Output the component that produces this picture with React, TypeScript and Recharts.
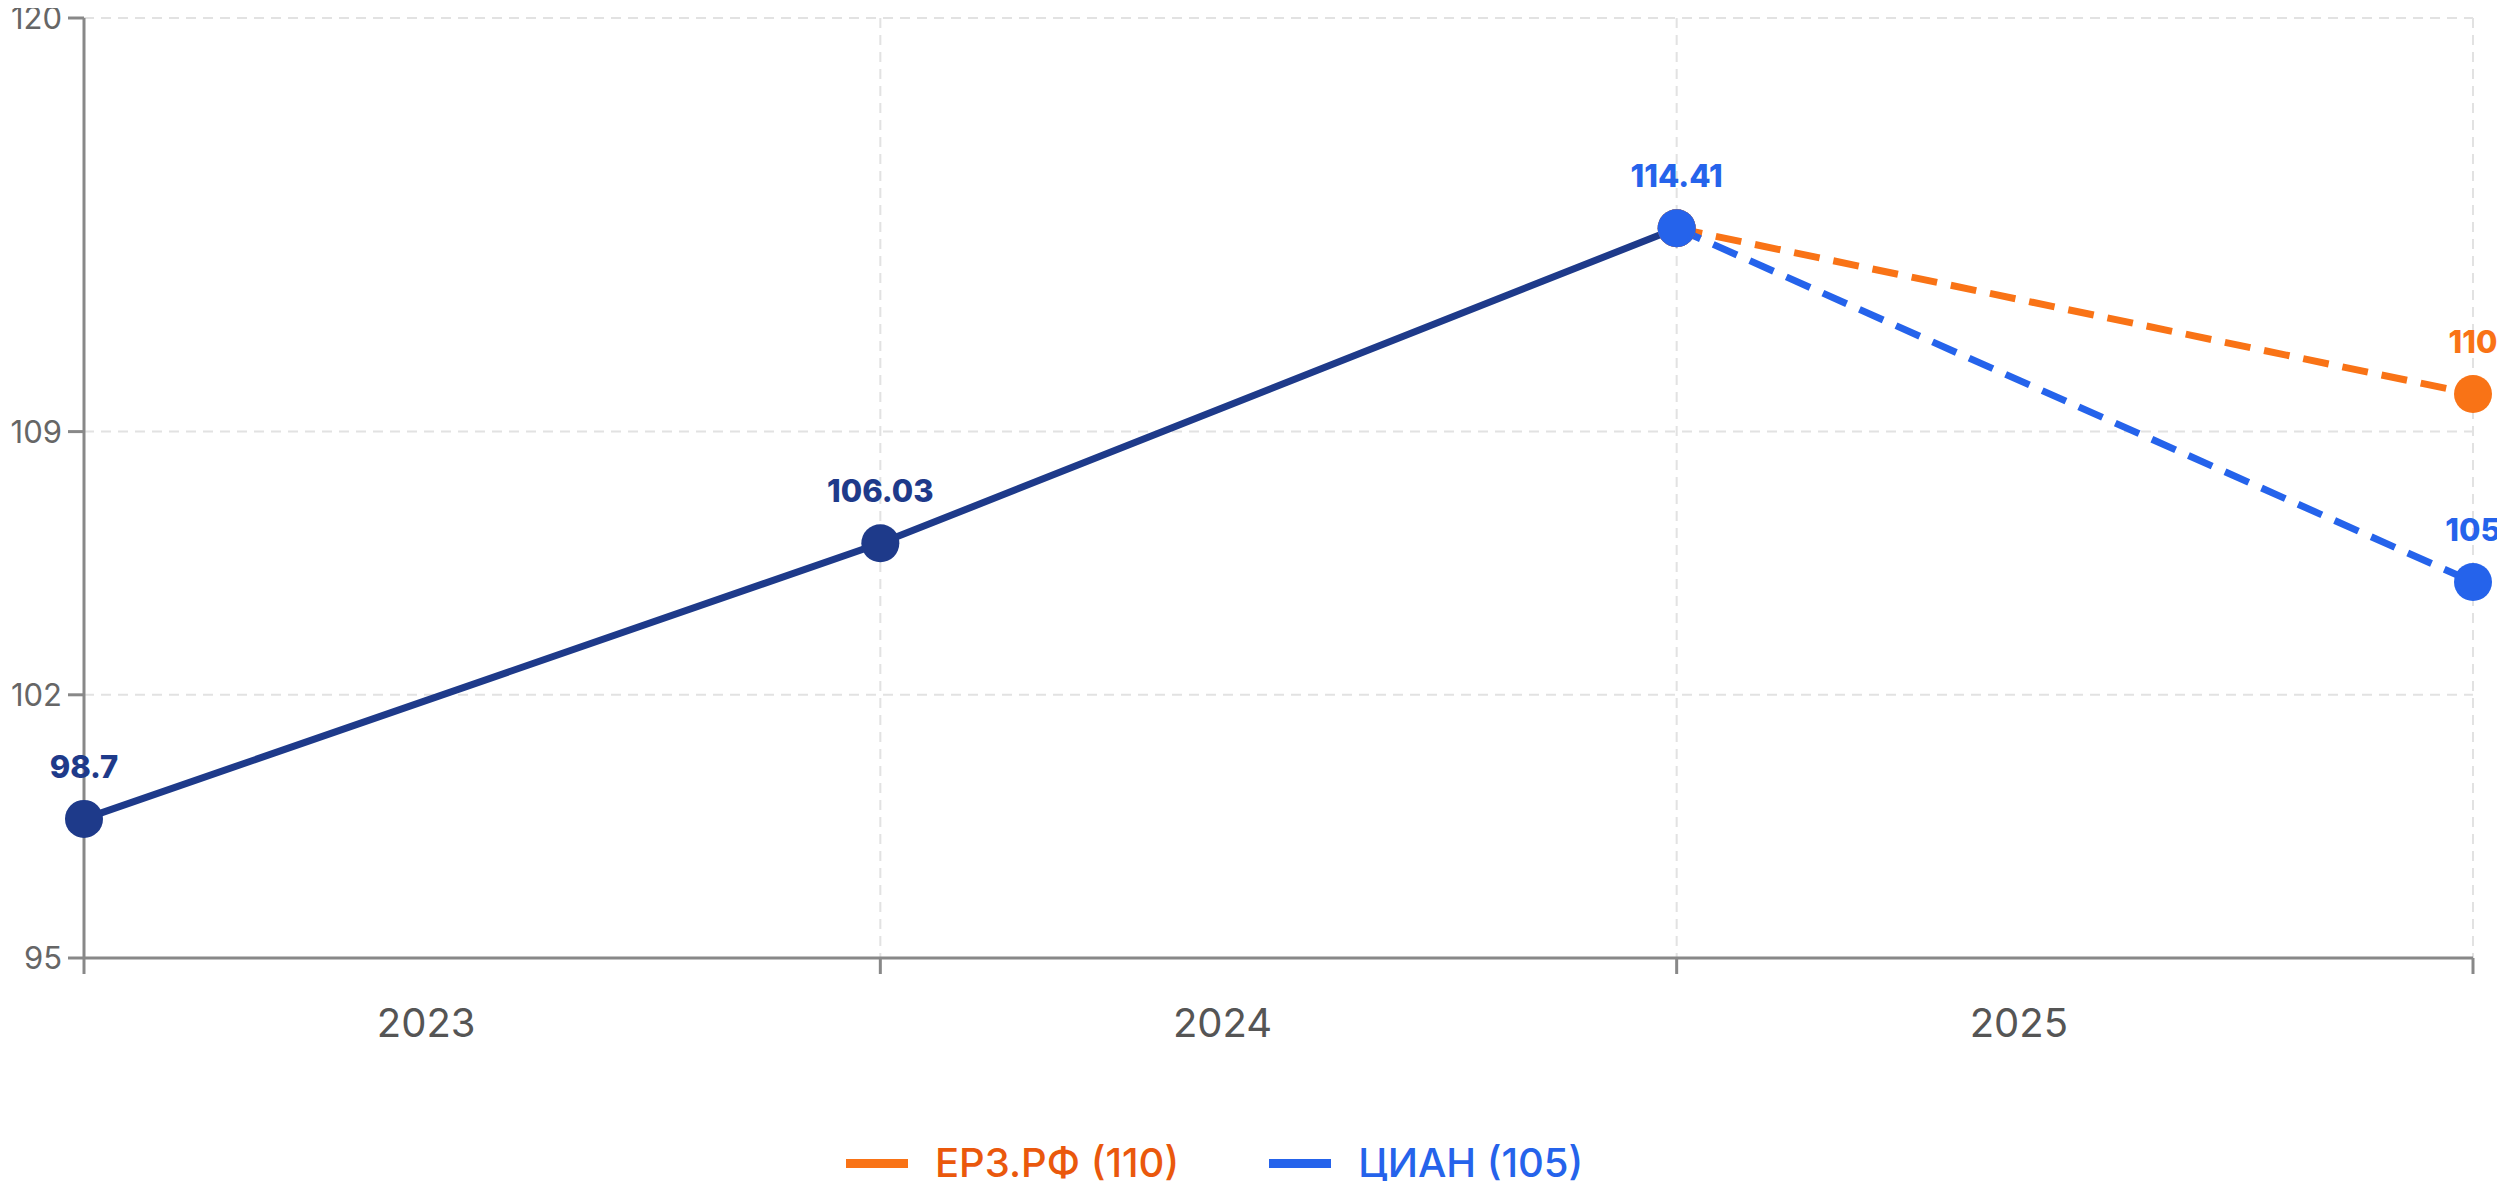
import React from 'react';
import { LineChart, Line, XAxis, YAxis, CartesianGrid, Legend } from 'recharts';

// points on the x axis: start of 2023, then end of each year
const categories = ['', '2023', '2024', '2025'];
const factValues = [98.7, 106.03, 114.41, null];
const erzValues = [null, null, 114.41, 110];
const cianValues = [null, null, 114.41, 105];
const yTicks = [95, 102, 109, 120];

const data = categories.map((name, i) => ({
  name,
  fact: factValues[i],
  erz: erzValues[i],
  cian: cianValues[i],
}));

const NAVY = '#1e3a8a';
const BLUE = '#2563eb';
const ORANGE = '#f97316';
const FONT = 'Inter, "Liberation Sans", sans-serif';

const CHART_W = 2505;
const CHART_H = 1189;
const MARGIN = { top: 18, right: 32, left: 0, bottom: 0 };
const Y_WIDTH = 84;
const STEP = (CHART_W - MARGIN.left - MARGIN.right - Y_WIDTH) / (categories.length - 1);

const makeLabel = (color: string, shown: number[]) => (props: any) => {
  const { x, y, value, index } = props;
  if (!shown.includes(index) || value == null) return null;
  return (
    <text x={x} y={y - 41} fill={color} fontSize={31} fontWeight={800} textAnchor="middle" fontFamily={FONT}>
      {value}
    </text>
  );
};

// year labels sit inside the interval that ends at the tick
const YearTick = (props: any) => {
  const { x, y, payload } = props;
  if (!payload.value) return null;
  return (
    <text x={x - STEP / 2 - 56} y={y} dy={61} textAnchor="middle" fill="#555" fontSize={40} fontFamily={FONT}>
      {payload.value}
    </text>
  );
};

const legendItems = [
  { label: 'ЕРЗ.РФ (110)', line: ORANGE, text: '#ea580c' },
  { label: 'ЦИАН (105)', line: BLUE, text: BLUE },
];

const LegendContent = () => (
  <div style={{ height: 52, display: 'flex', alignItems: 'center', paddingLeft: 846, fontFamily: FONT }}>
    {legendItems.map((it) => (
      <div key={it.label} style={{ display: 'flex', alignItems: 'center', marginRight: 90, lineHeight: 1 }}>
        <span style={{ width: 62, height: 9, background: it.line, marginRight: 27, display: 'inline-block' }} />
        <span style={{ color: it.text, fontSize: 40, fontWeight: 500 }}>{it.label}</span>
      </div>
    ))}
  </div>
);

export default function App() {
  return (
    <div style={{ width: CHART_W, height: CHART_H, overflow: 'hidden', margin: '-8px 0 -8px -8px' }}>
      <LineChart width={CHART_W} height={CHART_H} data={data} margin={MARGIN}>
        <CartesianGrid stroke="#e2e2e2" strokeDasharray="10 7" strokeWidth={2} />
        <XAxis
          dataKey="name"
          stroke="#888"
          strokeWidth={3}
          tickSize={16}
          tickMargin={2}
          height={179}
          tick={<YearTick />}
          interval={0}
        />
        <YAxis
          domain={[95, 120]}
          ticks={yTicks}
          width={Y_WIDTH}
          stroke="#888"
          strokeWidth={3}
          tickSize={16}
          tickMargin={6}
          tick={{ fill: '#666', fontSize: 31, fontFamily: FONT }}
          interval={0}
        />
        <Legend verticalAlign="bottom" content={<LegendContent />} />
        <Line
          dataKey="fact"
          name="Факт"
          stroke={NAVY}
          strokeWidth={7}
          dot={{ r: 19, fill: NAVY, stroke: 'none' }}
          label={makeLabel(NAVY, [0, 1])}
          legendType="none"
          isAnimationActive={false}
        />
        <Line
          dataKey="erz"
          name="ЕРЗ.РФ (110)"
          stroke={ORANGE}
          strokeWidth={7}
          strokeDasharray="26 14"
          dot={{ r: 19, fill: ORANGE, stroke: 'none' }}
          label={makeLabel(ORANGE, [3])}
          isAnimationActive={false}
        />
        <Line
          dataKey="cian"
          name="ЦИАН (105)"
          stroke={BLUE}
          strokeWidth={7}
          strokeDasharray="26 14"
          dot={{ r: 19, fill: BLUE, stroke: 'none' }}
          label={makeLabel(BLUE, [2, 3])}
          isAnimationActive={false}
        />
      </LineChart>
    </div>
  );
}
